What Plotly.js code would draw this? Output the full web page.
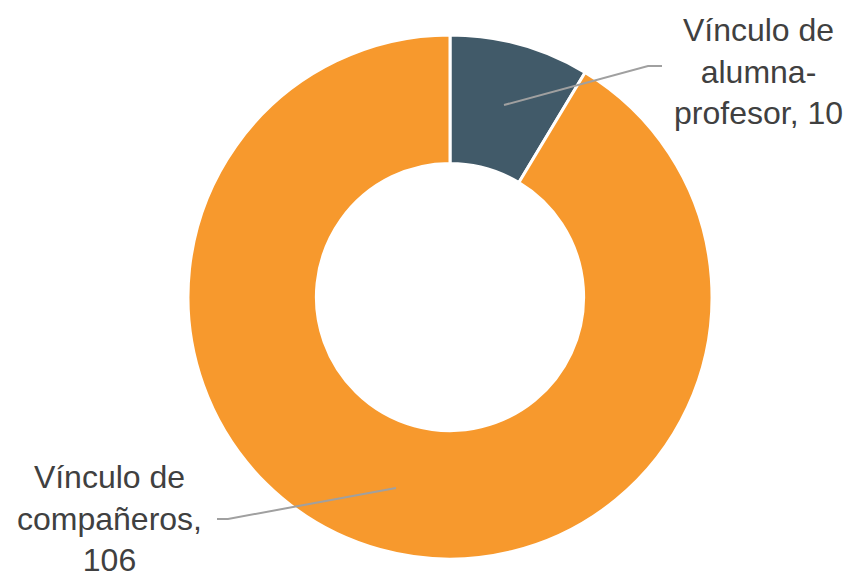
<!DOCTYPE html>
<html>
<head>
<meta charset="utf-8">
<script src="https://cdn.plot.ly/plotly-3.0.1.min.js"></script>
<style>html,body{margin:0;padding:0;background:#fff}#chart{width:853px;height:575px}</style>
</head>
<body>
<div id="chart"></div>
<script>
const categories = ["Vínculo de alumna-profesor", "Vínculo de compañeros"];
const values = [10, 106];
const labelLines = [["Vínculo de", "alumna-", "profesor, 10"], ["Vínculo de", "compañeros,", "106"]];
const colors = ["#415a69", "#f7992d"];

const W = 853, H = 575;
const px = x => x / W, py = y => 1 - y / H;

const trace = {
  type: "pie",
  labels: categories,
  values: values,
  hole: 0.51,
  sort: false,
  direction: "clockwise",
  rotation: 0,
  textinfo: "none",
  hoverinfo: "label+value",
  marker: {colors: colors, line: {color: "#ffffff", width: 3}},
  domain: {x: [px(188), px(712)], y: [py(559), py(35)]},
  showlegend: false
};

const font = {family: "Liberation Sans, Arial, sans-serif", size: 32, color: "#404040"};
const layout = {
  width: W, height: H,
  margin: {l: 0, r: 0, t: 0, b: 0},
  paper_bgcolor: "#ffffff",
  showlegend: false,
  annotations: [
    {xref: "paper", yref: "paper", x: px(758), y: py(71), xanchor: "center", yanchor: "middle",
     text: labelLines[0].join("<br>"), showarrow: false, font: font, align: "center"},
    {xref: "paper", yref: "paper", x: px(110), y: py(518), xanchor: "center", yanchor: "middle",
     text: labelLines[1].join("<br>"), showarrow: false, font: font, align: "center"}
  ],
  shapes: [
    {type: "path", xref: "paper", yref: "paper",
     path: `M ${px(504)} ${py(105)} L ${px(648)} ${py(66)} L ${px(662)} ${py(66)}`,
     line: {color: "#a0a0a0", width: 2}},
    {type: "path", xref: "paper", yref: "paper",
     path: `M ${px(396)} ${py(488)} L ${px(228)} ${py(519)} L ${px(217)} ${py(519)}`,
     line: {color: "#a0a0a0", width: 2}}
  ]
};

Plotly.newPlot("chart", [trace], layout, {displayModeBar: false, staticPlot: true});
</script>
</body>
</html>
